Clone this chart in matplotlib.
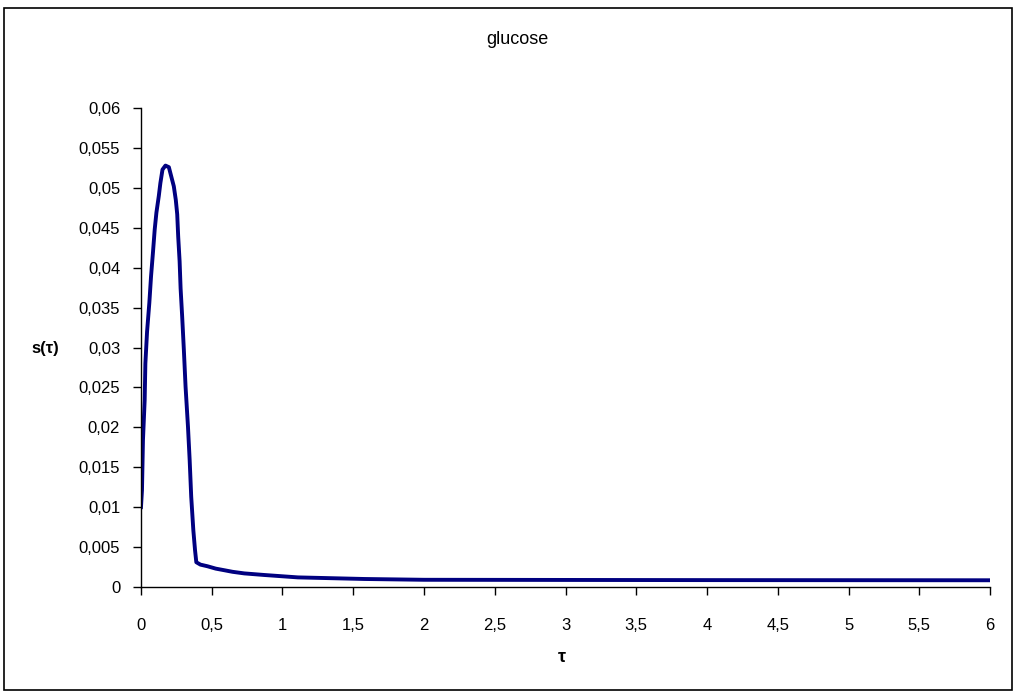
import matplotlib.pyplot as plt
from matplotlib.patches import Rectangle
from matplotlib.ticker import FuncFormatter, MultipleLocator

# values
tau = [0.0, 0.007, 0.014, 0.026, 0.031, 0.043, 0.059, 0.071, 0.085, 0.097,
       0.109, 0.126, 0.137, 0.152, 0.173, 0.197, 0.213, 0.232, 0.246, 0.256,
       0.263, 0.273, 0.28, 0.291, 0.303, 0.315, 0.332, 0.344, 0.355, 0.37,
       0.382, 0.391, 0.42, 0.469, 0.528, 0.588, 0.647, 0.73, 0.872, 1.109,
       1.58, 2.0, 3.0, 4.0, 5.0, 6.0]
s_tau = [0.0100, 0.0121, 0.0184, 0.0234, 0.0280, 0.0320, 0.0356, 0.0389, 0.0420, 0.0448,
         0.0469, 0.0490, 0.0506, 0.0523, 0.0528, 0.0526, 0.0515, 0.0502, 0.0485, 0.0467,
         0.0439, 0.0408, 0.0374, 0.0339, 0.0297, 0.0251, 0.0201, 0.0159, 0.0113, 0.0071,
         0.0046, 0.0031, 0.0028, 0.0026, 0.0023, 0.0021, 0.0019, 0.0017, 0.0015, 0.0012,
         0.0010, 0.0009, 0.00088, 0.00086, 0.00085, 0.00084]

title = 'glucose'
xlabel = 'τ'
ylabel = 's(τ)'

plt.rcParams['font.family'] = ['Liberation Sans', 'DejaVu Sans']

fig = plt.figure(figsize=(10.15, 6.93), dpi=100)
fig.patches.append(Rectangle((4 / 1015, 3 / 693), 1008 / 1015, 682 / 693,
                             transform=fig.transFigure, fill=False,
                             ec='black', lw=1.2))

ax = fig.add_axes([0.1389, 0.153, 0.8365, 0.691])
ax.plot(tau, s_tau, color='#000080', lw=2.8, solid_joinstyle='round')

ax.set_xlim(0, 6)
ax.set_ylim(0, 0.06)
ax.xaxis.set_major_locator(MultipleLocator(0.5))
ax.yaxis.set_major_locator(MultipleLocator(0.005))
comma = FuncFormatter(lambda v, p: ('%g' % round(v, 4)).replace('.', ','))
ax.xaxis.set_major_formatter(comma)
ax.yaxis.set_major_formatter(comma)

for side in ('top', 'right'):
    ax.spines[side].set_visible(False)
for side in ('left', 'bottom'):
    ax.spines[side].set_linewidth(1.0)
ax.tick_params(axis='both', direction='out', length=6, width=1.0,
               labelsize=12, colors='black')
ax.tick_params(axis='x', pad=16)
ax.tick_params(axis='y', pad=9)

fig.text(517 / 1015, 1 - 40 / 693, title, ha='center', va='center', fontsize=13)
fig.text(562 / 1015, 1 - 658 / 693, xlabel, ha='center', va='center',
         fontsize=13, fontweight='bold')
fig.text(45 / 1015, 1 - 348 / 693, ylabel, ha='center', va='center',
         fontsize=12, fontweight='bold')

fig.savefig('out.png', dpi=100)
